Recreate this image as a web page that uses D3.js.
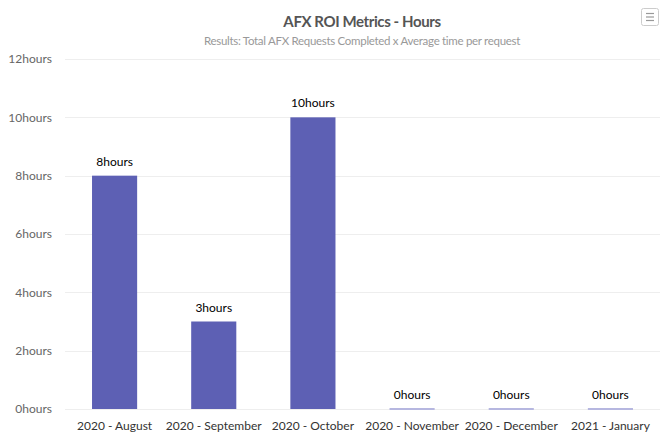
<!DOCTYPE html>
<html><head><meta charset="utf-8">
<script src="https://cdn.jsdelivr.net/npm/d3@7/dist/d3.min.js"></script>
<style>body{margin:0;background:#fff;}svg{display:block;font-family:Lato,"Open Sans",sans-serif;}</style>
</head><body>
<svg id="c" width="666" height="444"></svg>
<script>
const categories = ["2020 - August","2020 - September","2020 - October","2020 - November","2020 - December","2021 - January"];
const values = [8, 3, 10, 0, 0, 0];
const yTicks = [0, 2, 4, 6, 8, 10, 12];
const unit = "hours";

const svg = d3.select("#c");
const m = {l:65, r:6, t:59, b:35};
const W = 666, H = 444;
const x = d3.scaleBand().domain(categories).range([m.l, W - m.r]).paddingInner(0.545).paddingOuter(0.2725);
const y = d3.scaleLinear().domain([0, 12]).range([H - m.b, m.t]);

svg.append("text").attr("x", 362).attr("y", 27).attr("text-anchor","middle")
  .attr("font-size", 15).attr("letter-spacing", -0.4).attr("font-weight","bold").attr("fill","#555").text("AFX ROI Metrics - Hours");
svg.append("text").attr("x", 362).attr("y", 45).attr("text-anchor","middle")
  .attr("font-size", 11.5).attr("letter-spacing", -0.3).attr("fill","#999").text("Results: Total AFX Requests Completed x Average time per request");

// grid
svg.append("g").selectAll("line").data(yTicks).join("line")
  .attr("x1", m.l).attr("x2", W - m.r)
  .attr("y1", d => Math.round(y(d)) + 0.5).attr("y2", d => Math.round(y(d)) + 0.5)
  .attr("stroke", "#eeeeee");

const yAxis = d3.axisLeft(y).tickValues(yTicks).tickSize(0).tickPadding(13).tickFormat(d => d + unit);
const ga = svg.append("g").attr("transform", `translate(${m.l},0)`).call(yAxis);
ga.select(".domain").remove();
ga.selectAll("text").attr("font-size", 12).attr("fill", "#666").attr("font-family","Lato,sans-serif");

const xAxis = d3.axisBottom(x).tickSize(0).tickPadding(12);
const gx = svg.append("g").attr("transform", `translate(0,${H - m.b})`).call(xAxis);
gx.select(".domain").remove();
gx.selectAll("text").attr("font-size", 12).attr("fill", "#333").attr("font-family","Lato,sans-serif");

svg.append("g").selectAll("rect").data(values).join("rect")
  .attr("x", (d, i) => x(categories[i]))
  .attr("width", x.bandwidth())
  .attr("y", d => d > 0 ? y(d) : y(0) - 1)
  .attr("height", d => d > 0 ? y(0) - y(d) : 2)
  .attr("fill", d => d > 0 ? "#5d60b4" : "#b6b7e0");

svg.append("g").selectAll("text").data(values).join("text")
  .attr("x", (d, i) => x(categories[i]) + x.bandwidth() / 2)
  .attr("y", d => y(d) - 10)
  .attr("text-anchor", "middle").attr("font-size", 12).attr("fill", "#000")
  .text(d => d + unit);

// menu button
const mb = svg.append("g").attr("transform","translate(641,8)");
mb.append("rect").attr("x",0.5).attr("y",0.5).attr("width",17).attr("height",17).attr("rx",2)
  .attr("fill","#fff").attr("stroke","#ccc");
[5.5, 9, 12.5].forEach(yy => mb.append("line").attr("x1",5).attr("x2",13).attr("y1",yy).attr("y2",yy).attr("stroke","#999").attr("stroke-width",1.2));
</script>
</body></html>
